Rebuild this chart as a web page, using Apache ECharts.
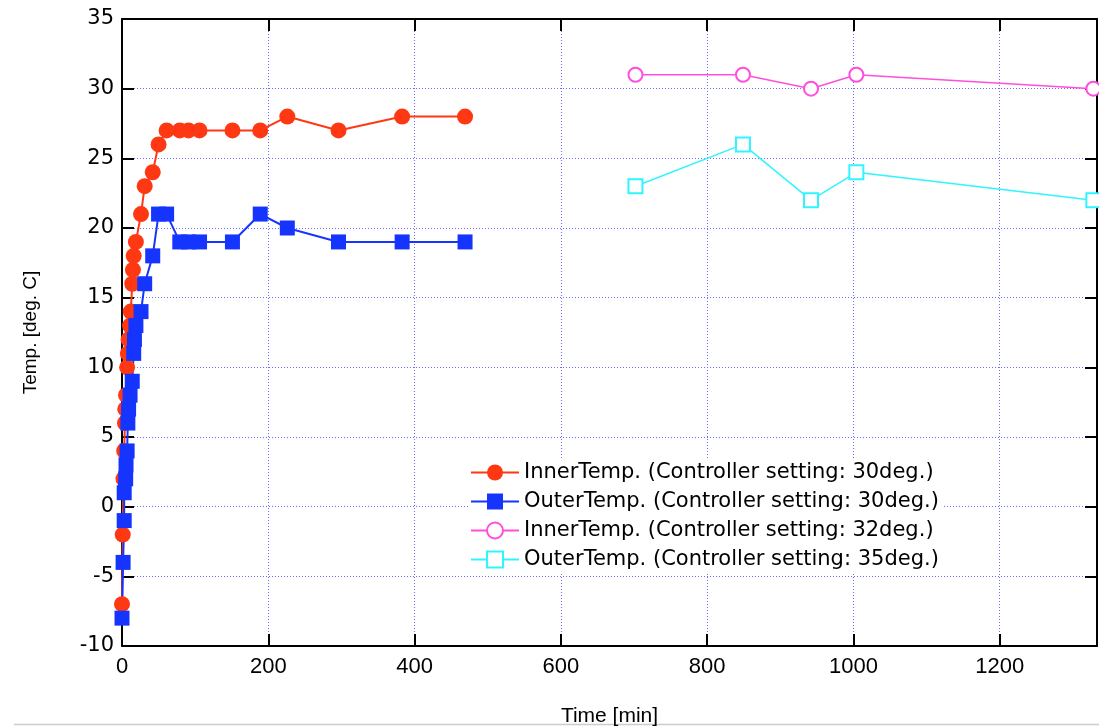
<!DOCTYPE html>
<html>
<head>
<meta charset="utf-8">
<script src="https://cdn.jsdelivr.net/npm/echarts@6/dist/echarts.min.js"></script>
<style>
  html,body{margin:0;padding:0;background:#fff;}
  #main{width:1099px;height:727px;}
</style>
</head>
<body>
<div id="main"></div>
<script>
// 数据: [time(min), temp]
var inner30 = [[0,-7],[1,-2],[2,2],[3,4],[4,6],[4.5,7],[5.5,8],[7,10],[8,11],[9,12],[11,13],[12,14],[14,16],[15,17],[16,18],[19,19],[26,21],[31,23],[42,24],[50,26],[61,27],[79,27],[91,27],[106,27],[151,27],[189,27],[226,28],[296,27],[383,28],[469,28]];
var outer30 = [[0,-8],[1.5,-4],[3,-1],[3,1],[5,2],[5.5,3],[7,4],[8,6],[9,7],[11,8],[14,9],[16,11],[17,12],[19,13],[26,14],[31,16],[42,18],[50,21],[61,21],[79,19],[91,19],[106,19],[151,19],[189,21],[226,20],[296,19],[383,19],[469,19]];
var inner32 = [[702,31],[849,31],[942,30],[1004,31],[1328,30]];
var outer35 = [[702,23],[849,26],[942,22],[1004,24],[1328,22]];
var seriesNames = [
  'InnerTemp. (Controller setting: 30deg.)',
  'OuterTemp. (Controller setting: 30deg.)',
  'InnerTemp. (Controller setting: 32deg.)',
  'OuterTemp. (Controller setting: 35deg.)'
];

var chart = echarts.init(document.getElementById('main'));
var gridColor = '#6b6bff';
var narrow = "'Liberation Sans Narrow', 'Liberation Sans', sans-serif";

// 外框用的轴 (上/右), 只画刻度
function boxAxis(pos, min, max, interval){
  return {
    type:'value', position:pos, min:min, max:max, interval:interval,
    axisLine:{show:true, onZero:false, lineStyle:{color:'#000', width:2}},
    axisTick:{show:true, inside:true, length:12, lineStyle:{color:'#000', width:2}},
    axisLabel:{show:false}, splitLine:{show:false}
  };
}

var option = {
  backgroundColor:'#fff',
  animation:false,
  grid:{left:122, right:2, top:19, bottom:81, outerBoundsMode:'none', containLabel:false},
  legend:{
    orient:'vertical', left:468, top:460,
    itemWidth:48, itemHeight:20, itemGap:8,
    backgroundColor:'#fff', padding:[2,4,2,2],
    textStyle:{fontFamily:'DejaVu Sans', fontSize:21, color:'#000'},
    data:seriesNames
  },
  xAxis:[{
    type:'value', min:0, max:1333, interval:200,
    name:'Time [min]', nameLocation:'middle', nameGap:60,
    nameTextStyle:{fontFamily:narrow, fontSize:21, color:'#000'},
    axisLine:{show:true, onZero:false, lineStyle:{color:'#000', width:2}},
    axisTick:{show:true, inside:true, length:12, lineStyle:{color:'#000', width:2}},
    axisLabel:{fontFamily:narrow, fontSize:22, color:'#000', margin:10, showMaxLabel:false,
      formatter:function(v){ return String(v); }},
    splitLine:{show:true, lineStyle:{color:gridColor, type:[1,2], width:1}}
  }, boxAxis('top', 0, 1333, 200)],
  yAxis:[{
    type:'value', min:-10, max:35, interval:5,
    name:'Temp. [deg. C]', nameLocation:'middle', nameGap:82, nameRotate:90,
    nameTextStyle:{fontFamily:narrow, fontSize:19, color:'#000'},
    axisLine:{show:true, onZero:false, lineStyle:{color:'#000', width:2}},
    axisTick:{show:true, inside:true, length:12, lineStyle:{color:'#000', width:2}},
    axisLabel:{fontFamily:'DejaVu Sans', fontSize:21, color:'#000', margin:8},
    splitLine:{show:true, lineStyle:{color:gridColor, type:[1,2], width:1}}
  }, boxAxis('right', -10, 35, 5)],
  graphic:[{
    type:'line', shape:{x1:14, y1:724.5, x2:1099, y2:724.5},
    style:{stroke:'#cccccc', lineWidth:1.5}
  }],
  series:[
    {
      name:seriesNames[0], type:'line', data:inner30,
      symbol:'circle', symbolSize:16, clip:false,
      lineStyle:{color:'#ff3814', width:2},
      itemStyle:{color:'#ff3814'}
    },
    {
      name:seriesNames[1], type:'line', data:outer30,
      symbol:'rect', symbolSize:15, clip:false,
      lineStyle:{color:'#1535ff', width:2},
      itemStyle:{color:'#1535ff'}
    },
    {
      name:seriesNames[2], type:'line', data:inner32,
      symbol:'emptyCircle', symbolSize:14, clip:false,
      lineStyle:{color:'#ff4fdc', width:1.5},
      itemStyle:{color:'#ff4fdc', borderWidth:1.5}
    },
    {
      name:seriesNames[3], type:'line', data:outer35,
      symbol:'emptyRect', symbolSize:14, clip:false,
      lineStyle:{color:'#2ff5ff', width:1.5},
      itemStyle:{color:'#2ff5ff', borderWidth:1.5}
    }
  ]
};
chart.setOption(option);
</script>
</body>
</html>
